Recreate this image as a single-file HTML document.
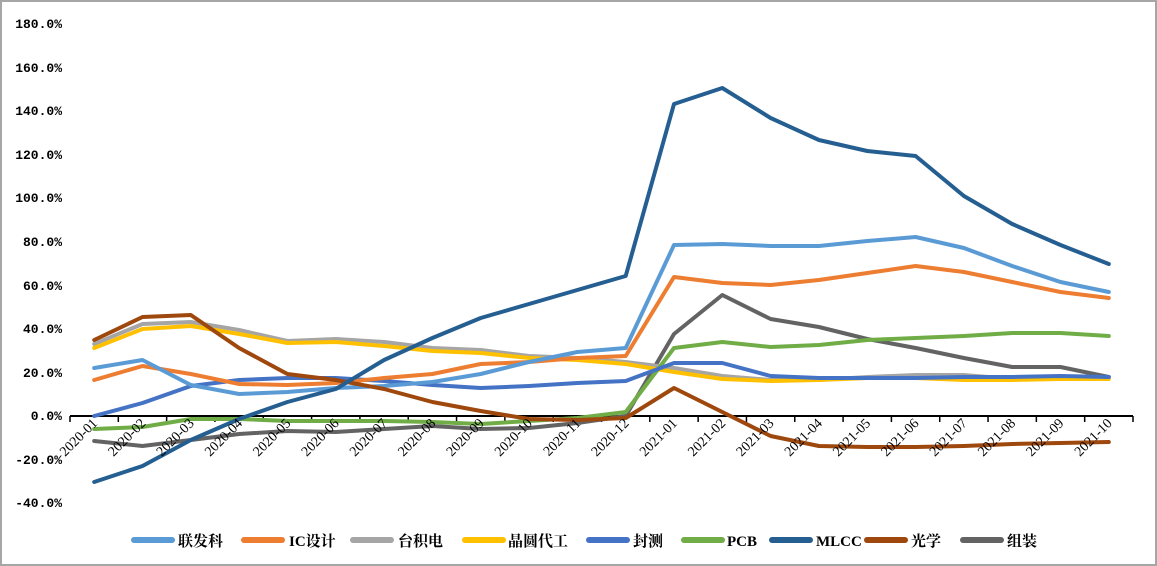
<!DOCTYPE html>
<html><head><meta charset="utf-8"><style>
html,body{margin:0;padding:0;background:#fff}
svg{display:block}
</style></head><body>
<svg width="1157" height="566" xmlns="http://www.w3.org/2000/svg">
<rect x="1" y="1" width="1155" height="564" fill="#fff" stroke="#a6a6a6" stroke-width="2"/>
<g font-family="Liberation Mono, monospace" font-size="13" font-weight="bold" fill="#000" text-anchor="end">
<text x="62" y="28">180.0%</text>
<text x="62" y="72">160.0%</text>
<text x="62" y="115">140.0%</text>
<text x="62" y="159">120.0%</text>
<text x="62" y="202">100.0%</text>
<text x="62" y="246">80.0%</text>
<text x="62" y="290">60.0%</text>
<text x="62" y="333">40.0%</text>
<text x="62" y="377">20.0%</text>
<text x="62" y="420">0.0%</text>
<text x="62" y="464">-20.0%</text>
<text x="62" y="507">-40.0%</text>
</g>
<g stroke="#000" stroke-width="2">
<line x1="70" y1="416" x2="1133" y2="416"/>
</g>
<g stroke="#000" stroke-width="1.5" id="ticks"></g>
<g fill="none" stroke-width="4" stroke-linejoin="round" stroke-linecap="round" id="series"></g>
<g font-family="Liberation Serif, serif" font-size="14" fill="#000" id="xl"></g>
<g stroke-width="6" stroke-linecap="round" id="leg"></g>
<g font-family="Liberation Serif, 'Noto Serif CJK SC', serif" font-size="15" font-weight="bold" fill="#000" id="legt"></g>
</svg>
<script>
var ns="http://www.w3.org/2000/svg";
function el(p,t,a,txt){var e=document.createElementNS(ns,t);for(var k in a)e.setAttribute(k,a[k]);if(txt)e.textContent=txt;document.getElementById(p).appendChild(e);}
var sp=(1133-70)/22;
for(var i=0;i<=22;i++){var x=70+sp*i;el("ticks","line",{x1:x,y1:416,x2:x,y2:422});}
var labels=[];for(var i=0;i<22;i++){var y=i<12?2020:2021,m=i<12?i+1:i-11;labels.push(y+"-"+(m<10?"0"+m:m));}
labels.forEach(function(l,i){var x=70+sp*(i+0.5)+4;el("xl","text",{x:x,y:424,"text-anchor":"end",transform:"rotate(-45 "+x+" 424)"},l);});
var S=[
["#636363",[441,446,440,434,431,432,429,426,429,428,423,416,334,295,319,327,339,348,358,367,367,377]],
["#a5a5a5",[344,324,322,330,341,339,342,348,350,356,358,362,368,376,380,380,377,375,375,379,378,378]],
["#ffc000",[348,329,326,334,343,342,346,351,353,358,360,364,372,379,381,380,378,378,380,380,379,379]],
["#70ad47",[429,427,419,419,421,421,421,422,424,421,418,412,348,342,347,345,340,338,336,333,333,336]],
["#4472c4",[416,403,386,380,378,378,381,385,388,386,383,381,363,363,376,378,378,378,377,377,376,377]],
["#ed7d31",[380,366,374,384,385,383,378,374,364,362,358,356,277,283,285,280,273,266,272,282,292,298]],
["#5b9bd5",[368,360,385,394,392,388,386,382,374,362,352,348,245,244,246,246,241,237,248,266,282,292]],
["#9e480e",[340,317,315,348,374,380,389,402,411,419,420,418,388,412,436,446,447,447,446,444,443,442]],
["#255e91",[482,466,440,419,402,389,360,338,318,304,290,276,104,88,118,140,151,156,196,224,245,264]]
];
S.forEach(function(s){var p=s[1].map(function(y,i){return (70+sp*(i+0.5)).toFixed(1)+","+y;}).join(" ");el("series","polyline",{points:p,stroke:s[0]});});
var L=[["#5b9bd5",131,178,"联发科"],["#ed7d31",241,289,"IC设计"],["#a5a5a5",350,398,"台积电"],["#ffc000",462,508,"晶圆代工"],["#4472c4",586,633,"封测"],["#70ad47",681,727,"PCB"],["#255e91",769,816,"MLCC"],["#9e480e",864,911,"光学"],["#636363",960,1007,"组装"]];
L.forEach(function(l){el("leg","line",{x1:l[1]+3,y1:540,x2:l[1]+41,y2:540,stroke:l[0]});el("legt","text",{x:l[2],y:546},l[3]);});
</script>
</body></html>
